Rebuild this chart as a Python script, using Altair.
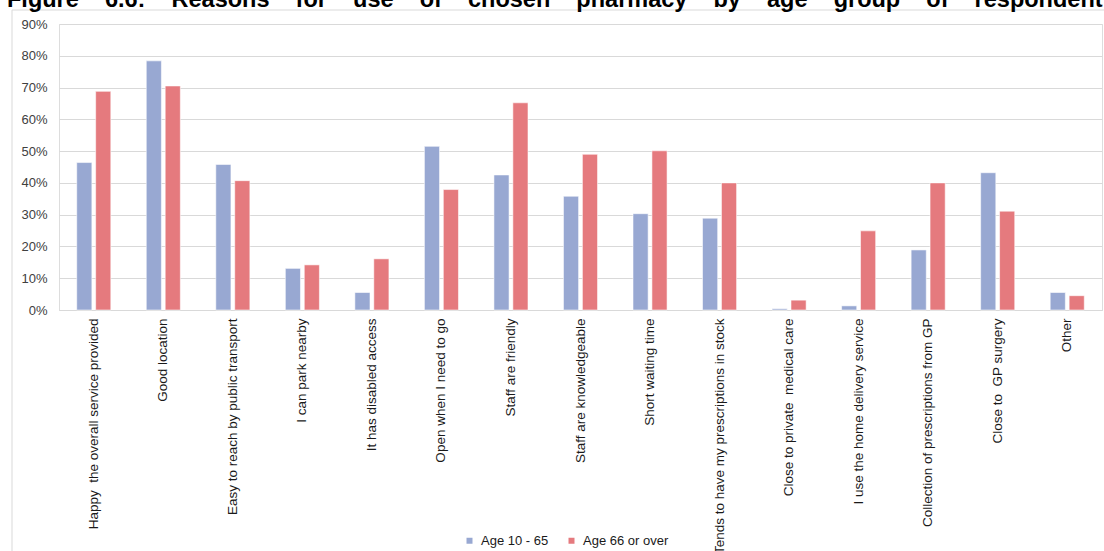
import altair as alt
import pandas as pd

categories = [
    "Happy\u00a0 the overall service provided",
    "Good location",
    "Easy to reach by public transport",
    "I can park nearby",
    "It has disabled access",
    "Open when I need to go",
    "Staff are friendly",
    "Staff are knowledgeable",
    "Short waiting time",
    "Tends to have my prescriptions in stock",
    "Close to private\u00a0 medical care",
    "I use the home delivery service",
    "Collection of prescriptions from GP",
    "Close to\u00a0 GP surgery",
    "Other",
]
age_10_65 = [46.4, 78.4, 45.8, 13.1, 5.5, 51.5, 42.5, 35.8, 30.3, 28.9, 0.4, 1.3, 18.9, 43.2, 5.5]
age_66_over = [68.8, 70.5, 40.7, 14.2, 16.1, 37.9, 65.2, 49.0, 50.1, 40.0, 3.1, 24.9, 40.0, 31.1, 4.5]
series = ["Age 10 - 65", "Age 66 or over"]
colors = ["#98A8D2", "#E57A7E"]
y_ticks = [0, 10, 20, 30, 40, 50, 60, 70, 80, 90]
title_words = ["Figure", "6.6:", "Reasons", "for", "use", "of", "chosen", "pharmacy",
               "by", "age", "group", "of", "respondent"]

rows = []
for c, a, b in zip(categories, age_10_65, age_66_over):
    rows.append({"reason": c, "group": series[0], "value": a})
    rows.append({"reason": c, "group": series[1], "value": b})
df = pd.DataFrame(rows)

FONT = "Liberation Sans"
W, H = 1043, 286

bars = alt.Chart(df).mark_bar(stroke="white", strokeWidth=0.8, strokeOpacity=0.7).encode(
    x=alt.X("reason:N", sort=categories,
            scale=alt.Scale(paddingInner=0.51, paddingOuter=0.255),
            axis=alt.Axis(title=None, labelAngle=-90, labelFontSize=13.5, labelFont=FONT,
                          labelColor="#1a1a1a", labelPadding=8, ticks=False, tickSize=0,
                          domain=True, domainColor="#D9D9D9", labelLimit=0)),
    xOffset=alt.XOffset("group:N", sort=series, scale=alt.Scale(paddingInner=0.2, paddingOuter=0)),
    y=alt.Y("value:Q", scale=alt.Scale(domain=[0, 90], nice=False),
            axis=alt.Axis(title=None, values=y_ticks, labelExpr="datum.value + '%'",
                          labelFontSize=13, labelFont=FONT, labelColor="#404040",
                          ticks=False, tickSize=0, labelPadding=12, domain=False,
                          grid=True, gridColor="#D9D9D9", gridWidth=1)),
    color=alt.Color("group:N", sort=series,
                    scale=alt.Scale(domain=series, range=colors),
                    legend=alt.Legend(title=None, orient="none", direction="horizontal",
                                      legendX=404, legendY=510, symbolType="square",
                                      symbolSize=36, symbolStrokeWidth=0, labelFont=FONT,
                                      labelFontSize=13, labelColor="#1a1a1a", labelOffset=5,
                                      columnPadding=16)),
)

title_text = ("\u00a0" * 4).join(title_words)
title = alt.Chart(pd.DataFrame({"t": [title_text]})).mark_text(
    align="left", baseline="alphabetic", font=FONT, fontSize=23.5, fontWeight="bold", color="#000000"
).encode(x=alt.value(-52), y=alt.value(-17), text="t:N")

frame_top = alt.Chart(pd.DataFrame({"a": [0]})).mark_rule(color="#D9D9D9", strokeWidth=1).encode(
    x=alt.value(-47), x2=alt.value(W + 10), y=alt.value(-14))
frame_left = alt.Chart(pd.DataFrame({"a": [0]})).mark_rule(color="#D9D9D9", strokeWidth=1).encode(
    x=alt.value(-47), y=alt.value(-14), y2=alt.value(H + 300))

chart = alt.layer(frame_top, frame_left, bars, title).properties(
    width=W, height=H,
    autosize=alt.AutoSizeParams(type="none"),
    padding={"left": 59, "top": 24, "right": 2, "bottom": 241},
).configure_view(stroke=None).configure(background="white")

chart.save("out.html", embed_options={"renderer": "svg", "actions": False})
